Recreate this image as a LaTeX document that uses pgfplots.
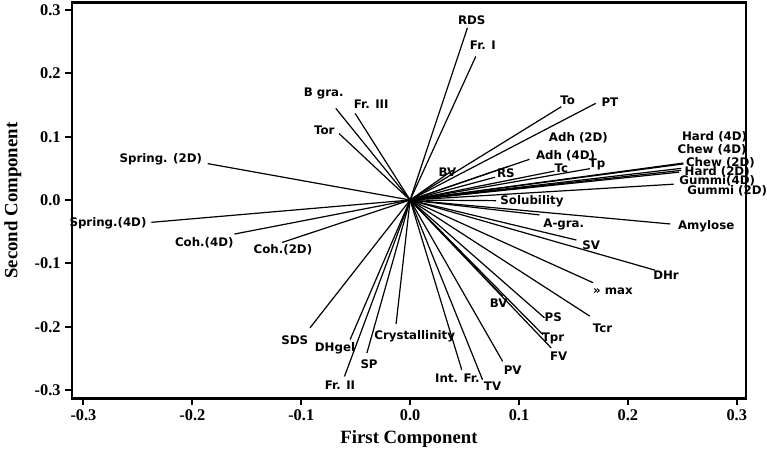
\documentclass[border=0pt]{standalone}
\usepackage{fontspec}
\setmainfont{Liberation Serif}
\newfontfamily\labfont{DejaVu Sans}
\usepackage{pgfplots}
\usepackage{pgfplotstable}
\pgfplotsset{compat=1.18}

% loadings: name, end point (x,y), label centre (lx,ly)
\pgfplotstableread[col sep=comma]{
name,x,y,lx,ly
RDS,0.0526,0.2717,0.0566,0.2838
Fr. I,0.0603,0.2267,0.0668,0.2452
To,0.1388,0.1473,0.1447,0.1580
PT,0.1705,0.1527,0.1835,0.1552
Adh (2D),0.0900,0.0530,0.1545,0.0987
Adh (4D),0.1096,0.0643,0.1427,0.0706
BV,0.0390,0.0470,0.0342,0.0432
RS,0.0780,0.0360,0.0880,0.0425
Tc,0.1325,0.0457,0.1388,0.0505
Tp,0.1650,0.0495,0.1717,0.0563
Hard (4D),0.2490,0.0500,0.2796,0.0997
Chew (4D),0.2510,0.0584,0.2773,0.0786
Chew (2D),0.2510,0.0570,0.2850,0.0590
Hard (2D),0.2490,0.0468,0.2820,0.0441
Gummi(4D),0.2470,0.0440,0.2820,0.0310
Gummi (2D),0.2420,0.0250,0.2912,0.0151
Solubility,0.0790,-0.0010,0.1119,-0.0024
A-gra.,0.1188,-0.0235,0.1411,-0.0389
Amylose,0.2389,-0.0378,0.2719,-0.0421
SV,0.1527,-0.0632,0.1662,-0.0711
DHr,0.2250,-0.1108,0.2350,-0.1183
» max,0.1680,-0.1305,0.1862,-0.1447
BV,0.0850,-0.1520,0.0814,-0.1622
PS,0.1234,-0.1860,0.1314,-0.1844
Tcr,0.1650,-0.1833,0.1767,-0.2029
Tpr,0.1219,-0.2124,0.1313,-0.2187
FV,0.1296,-0.2336,0.1365,-0.2473
Crystallinity,-0.0129,-0.1956,0.0042,-0.2151
PV,0.0850,-0.2548,0.0942,-0.2690
Int. Fr.,0.0474,-0.2680,0.0434,-0.2813
TV,0.0665,-0.2838,0.0757,-0.2944
SDS,-0.0920,-0.2019,-0.1059,-0.2219
DHgel,-0.0551,-0.2203,-0.0690,-0.2337
SP,-0.0397,-0.2416,-0.0377,-0.2600
Fr. II,-0.0603,-0.2786,-0.0644,-0.2929
Spring.(4D),-0.2376,-0.0352,-0.2775,-0.0368
Coh.(4D),-0.1613,-0.0537,-0.1891,-0.0670
Coh.(2D),-0.1176,-0.0670,-0.1168,-0.0791
Spring. (2D),-0.1859,0.0575,-0.2290,0.0638
Tor,-0.0653,0.1050,-0.0789,0.1103
B gra.,-0.0683,0.1448,-0.0793,0.1675
Fr. III,-0.0505,0.1368,-0.0358,0.1516
}\loadings

\begin{document}
\begin{tikzpicture}
\begin{axis}[
    scale only axis,
    width=502.7pt, height=295pt,
    xmin=-0.3105, xmax=0.3084,
    ymin=-0.313, ymax=0.3114,
    clip=false,
    axis line style={line width=2pt},
    xtick={-0.3,-0.2,-0.1,0,0.1,0.2,0.3},
    xticklabels={-0.3,-0.2,-0.1,0.0,0.1,0.2,0.3},
    ytick={-0.3,-0.2,-0.1,0,0.1,0.2,0.3},
    yticklabels={-0.3,-0.2,-0.1,0.0,0.1,0.2,0.3},
    xtick pos=bottom, ytick pos=left,
    tick align=outside,
    major tick length=5pt,
    every tick/.style={black, line width=1.5pt},
    tick label style={font=\fontsize{12.2}{13}\selectfont\bfseries},
    label style={font=\fontsize{14}{16}\selectfont\bfseries},
    xlabel={First Component},
    ylabel={Second Component},
    ylabel shift=3pt,
]
\addplot[black, line width=0.9pt, mark=none,
    quiver={u=\thisrow{x}, v=\thisrow{y}}]
    table[x expr=0, y expr=0] {\loadings};
\addplot[draw=none, mark=none, nodes near coords,
    point meta=explicit symbolic,
    every node near coord/.style={anchor=center, inner sep=0pt,
        font=\labfont\bfseries\fontsize{8.8}{10}\selectfont}]
    table[x=lx, y=ly, meta=name] {\loadings};
\end{axis}
\end{tikzpicture}
\end{document}
